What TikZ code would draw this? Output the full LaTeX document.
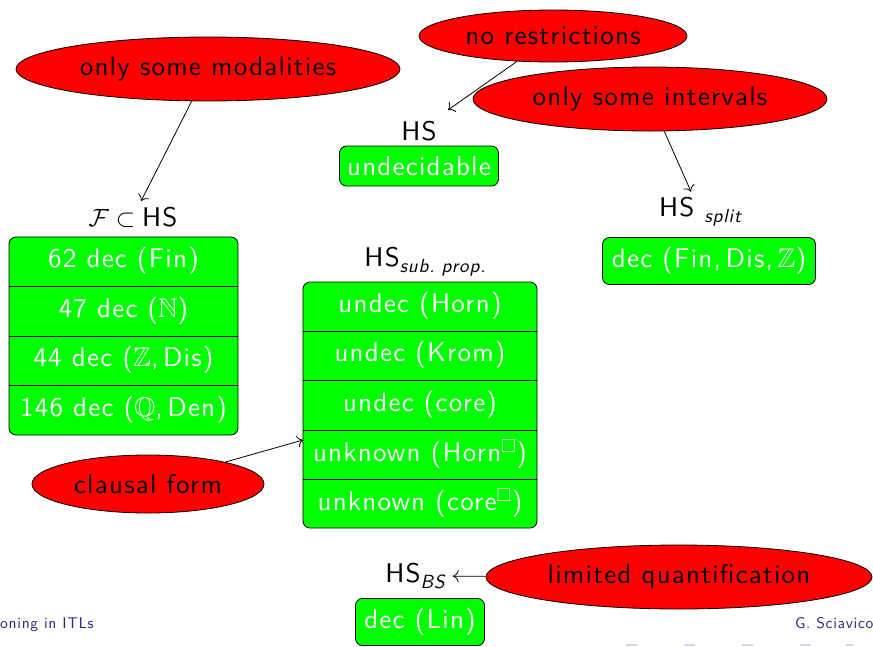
\documentclass[tikz,border=0pt]{standalone}
\usepackage{amssymb}
\usepackage{fontspec}
\setsansfont{lmsans10-regular.otf}[ItalicFont=lmsans10-oblique.otf, LetterSpace=4.5]
\usetikzlibrary{shapes.geometric,arrows.meta}
\definecolor{boxgreen}{RGB}{0,255,0}
\definecolor{ellred}{RGB}{255,0,0}
\definecolor{footblue}{RGB}{40,40,125}
\definecolor{navblue}{RGB}{212,212,236}
\newcommand{\lowsub}[1]{\raisebox{-6pt}{\fontsize{19}{22}\selectfont\itshape #1}}

\begin{document}
\begin{tikzpicture}[x=1pt,y=-1pt,
  font=\sffamily\fontsize{27}{32}\selectfont,
  ell/.style={ellipse, draw=black, line width=0.8pt, fill=ellred, text=black, inner sep=0pt},
  gbox/.style={draw=black, line width=0.8pt, fill=boxgreen, rounded corners=7pt, inner sep=0pt},
  sep/.style={line width=0.8pt},
  cell/.style={text=white, inner sep=0pt},
  lbl/.style={text=black, inner sep=2pt},
  arr/.style={-{To[scale=1.7]}, line width=0.8pt},
  foot/.style={text=footblue, font=\sffamily\fontsize{15.5}{18}\selectfont, inner sep=0pt},
  nav/.style={fill=navblue, draw=none}
]
\useasboundingbox (0,0) rectangle (873,646);
\clip (0,0) rectangle (873,646);

% fragments: F subset HS
\node[ell, minimum width=384pt, minimum height=64pt] (mod) at (208,69) {only some modalities};
\node[lbl] (Flabel) at (133,217) {$\mathcal{F}\subset{}$HS};
\node[gbox, minimum width=229pt, minimum height=198pt] (Fbox) at (123.5,336) {};
\draw[sep] (9,286) -- (238,286);
\draw[sep] (9,336) -- (238,336);
\draw[sep] (9,385) -- (238,385);
\node[cell] (f1) at (123.5,261) {62 dec (Fin)};
\node[cell] (f2) at (123.5,311) {47 dec ($\mathbb{N}$)};
\node[cell] (f3) at (123.5,360) {44 dec ($\mathbb{Z}$,\,Dis)};
\node[cell] (f4) at (123.5,410) {146 dec ($\mathbb{Q}$,\,Den)};
\draw[arr, shorten >=4pt] (mod) -- (Flabel);

% full HS
\node[ell, minimum width=268pt, minimum height=52pt] (nores) at (553,36) {no restrictions};
\node[lbl] (HS) at (419,131) {HS};
\node[gbox, cell, minimum width=159pt, minimum height=40pt] (undec) at (419,166) {undecidable};
\coordinate (hsin) at (448,110);
\draw[arr] (nores) -- (hsin);

% split fragment
\node[ell, minimum width=354pt, minimum height=64pt] (ivals) at (650,99) {only some intervals};
\node[lbl] (split) at (700,212) {HS~\lowsub{split}};
\node[gbox, cell, minimum width=213pt, minimum height=47pt] (splitbox) at (709,261) {dec (Fin,\,Dis,\,$\mathbb{Z}$)};
\draw[arr, shorten >=4pt] (ivals) -- (split);

% sub-propositional fragments
\node[lbl] (sub) at (425,262) {HS\lowsub{sub.\ prop.}};
\node[gbox, minimum width=234pt, minimum height=246pt] (subbox) at (420,405) {};
\draw[sep] (303,331) -- (537,331);
\draw[sep] (303,380) -- (537,380);
\draw[sep] (303,430) -- (537,430);
\draw[sep] (303,479) -- (537,479);
\node[cell] (s1) at (420,306) {undec (Horn)};
\node[cell] (s2) at (420,355) {undec (Krom)};
\node[cell] (s3) at (420,405) {undec (core)};
\node[cell] (s4) at (420,454) {unknown (Horn$^{\Box}$)};
\node[cell] (s5) at (420,503) {unknown (core$^{\Box}$)};
\node[ell, minimum width=232pt, minimum height=58pt] (clausal) at (148,484) {clausal form};
\coordinate (cfin) at (303,440);
\draw[arr] (clausal) -- (cfin);

% BS fragment
\node[lbl] (BS) at (415,576) {HS\lowsub{BS}};
\node[gbox, cell, minimum width=129pt, minimum height=47pt] (lin) at (420,622) {dec (Lin)};
\node[ell, minimum width=386pt, minimum height=64pt] (lq) at (679,577) {limited quantification};
\draw[arr, shorten >=6pt] (lq) -- (BS);

% footline
\node[foot, anchor=base west] (ftl) at (0,628) {oning in ITLs};
\node[foot, anchor=base west] (ftr) at (795,628) {G. Sciavico};
\fill[nav] (626,643.5) rectangle (637,646);
\fill[nav] (684,643.5) rectangle (695,646);
\fill[nav] (742,643.5) rectangle (753,646);
\fill[nav] (800,643.5) rectangle (811,646);
\fill[nav] (846,643.5) rectangle (853,646);
\end{tikzpicture}
\end{document}
